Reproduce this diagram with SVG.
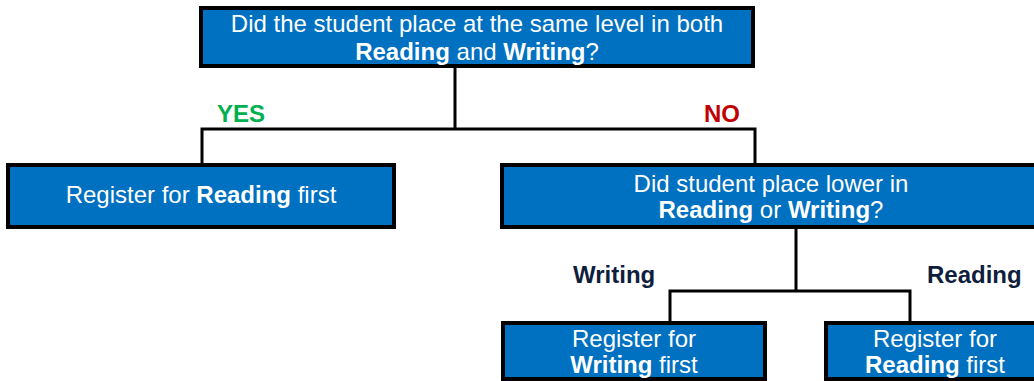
<svg xmlns="http://www.w3.org/2000/svg" width="1034" height="381" viewBox="0 0 1034 381">
<style>
.box{fill:#0070C0;stroke:#000;stroke-width:4}
.t{font-family:"Liberation Sans",Arial,sans-serif;font-size:24px;fill:#fff;text-anchor:middle}
.b{font-weight:bold}
.conn{fill:none;stroke:#000;stroke-width:3}
.lbl{font-family:"Liberation Sans",Arial,sans-serif;font-size:24px;font-weight:bold}
</style>
<rect width="1034" height="381" fill="#fff"/>
<g id="connectors">
<path class="conn" d="M455 68 V129"/>
<path class="conn" d="M202 165 V129 H755 V165"/>
<path class="conn" d="M796 229 V291"/>
<path class="conn" d="M670 323 V291 H910 V323"/>
</g>
<g id="labels">
<text class="lbl" x="217" y="122" fill="#00B050">YES</text>
<text class="lbl" x="704" y="122" fill="#C00000">NO</text>
<text class="lbl" x="573" y="283" fill="#0F1E3C">Writing</text>
<text class="lbl" x="927" y="283" fill="#0F1E3C">Reading</text>
</g>
<g id="q1">
<rect class="box" x="201" y="8" width="552" height="58"/>
<text class="t" x="477" y="32">Did the student place at the same level in both</text>
<text class="t" x="477" y="60"><tspan class="b">Reading</tspan> and <tspan class="b">Writing</tspan>?</text>
</g>
<g id="yes-reading">
<rect class="box" x="8" y="165" width="386" height="62"/>
<text class="t" x="201" y="203">Register for <tspan class="b">Reading</tspan> first</text>
</g>
<g id="q2">
<rect class="box" x="502" y="165" width="540" height="62"/>
<text class="t" x="771" y="192">Did student place lower in</text>
<text class="t" x="771" y="218"><tspan class="b">Reading</tspan> or <tspan class="b">Writing</tspan>?</text>
</g>
<g id="writing-first">
<rect class="box" x="503" y="323" width="262" height="56"/>
<text class="t" x="634" y="347">Register for</text>
<text class="t" x="634" y="373"><tspan class="b">Writing</tspan> first</text>
</g>
<g id="reading-first">
<rect class="box" x="826" y="323" width="218" height="56"/>
<text class="t" x="935" y="347">Register for</text>
<text class="t" x="935" y="373"><tspan class="b">Reading</tspan> first</text>
</g>
</svg>
